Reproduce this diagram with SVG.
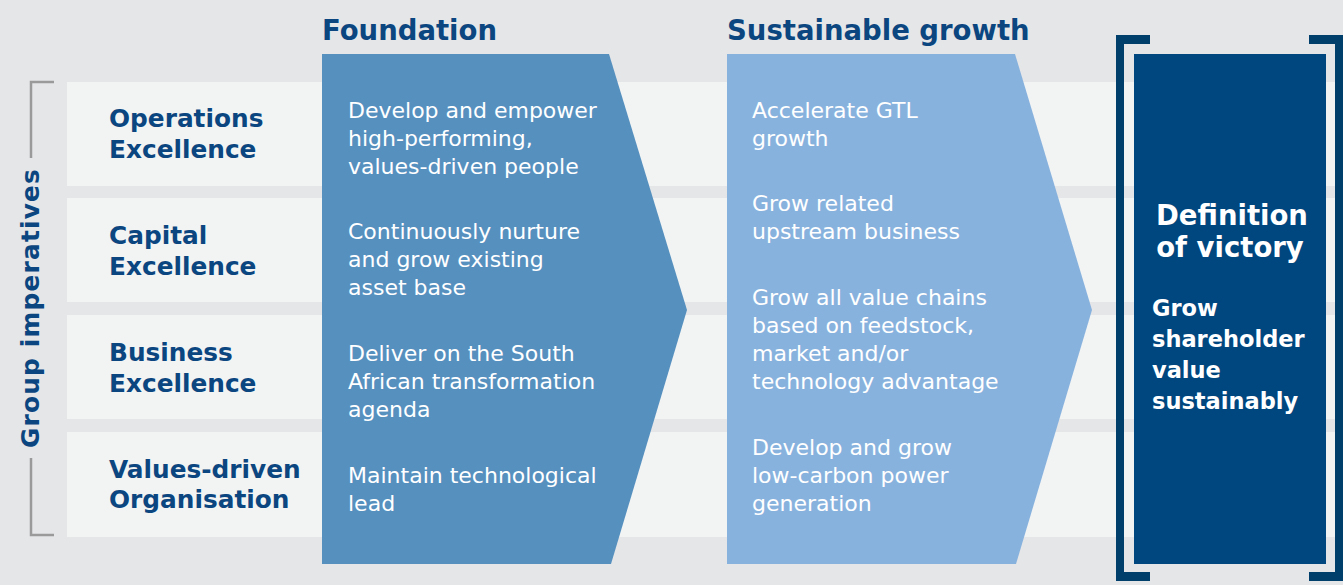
<svg xmlns="http://www.w3.org/2000/svg" width="1343" height="585" viewBox="0 0 1343 585">
<style>
.bg{fill:#e5e6e8}
.row{fill:#f2f4f4}
.lbl{font-family:"DejaVu Sans","Liberation Sans",sans-serif;font-weight:bold;font-size:24.8px;fill:#0b4680}
.hdr{font-family:"DejaVu Sans","Liberation Sans",sans-serif;font-weight:bold;font-size:27.5px;fill:#0b4680}
.wt{font-family:"DejaVu Sans","Liberation Sans",sans-serif;font-size:22px;fill:#ffffff}
.wb{font-family:"DejaVu Sans","Liberation Sans",sans-serif;font-weight:bold;fill:#ffffff}
.gline{stroke:#9a9a9a;stroke-width:2.5;fill:none}
.brk{fill:#003e6b}
</style>
<rect class="bg" x="0" y="0" width="1343" height="585"/>
<g id="rows">
<rect class="row" x="67" y="82" width="1276" height="104"/>
<rect class="row" x="67" y="198" width="1276" height="104"/>
<rect class="row" x="67" y="315" width="1276" height="104"/>
<rect class="row" x="67" y="432" width="1276" height="105"/>
</g>
<g id="group-imperatives">
<path class="gline" d="M54 82 H31 V158"/>
<path class="gline" d="M31 458 V535 H54"/>
<text class="lbl" transform="translate(39,308) rotate(-90)" text-anchor="middle" font-size="28" letter-spacing="1.2">Group imperatives</text>
</g>
<g id="labels">
<text class="lbl" x="109" y="127">Operations</text>
<text class="lbl" x="109" y="158">Excellence</text>
<text class="lbl" x="109" y="244">Capital</text>
<text class="lbl" x="109" y="275">Excellence</text>
<text class="lbl" x="109" y="361">Business</text>
<text class="lbl" x="109" y="392">Excellence</text>
<text class="lbl" x="109" y="478">Values-driven</text>
<text class="lbl" x="109" y="508">Organisation</text>
</g>
<g id="foundation">
<text class="hdr" x="322" y="40">Foundation</text>
<polygon fill="#5690bf" points="322,54 609,54 687,310 611,564 322,564"/>
<text class="wt" x="348" y="118">Develop and empower</text>
<text class="wt" x="348" y="146">high-performing,</text>
<text class="wt" x="348" y="174">values-driven people</text>
<text class="wt" x="348" y="239">Continuously nurture</text>
<text class="wt" x="348" y="267">and grow existing</text>
<text class="wt" x="348" y="295">asset base</text>
<text class="wt" x="348" y="361">Deliver on the South</text>
<text class="wt" x="348" y="389">African transformation</text>
<text class="wt" x="348" y="417">agenda</text>
<text class="wt" x="348" y="483">Maintain technological</text>
<text class="wt" x="348" y="511">lead</text>
</g>
<g id="sustainable-growth">
<text class="hdr" x="727" y="40">Sustainable growth</text>
<polygon fill="#88b2de" points="727,54 1015,54 1092,310 1016,564 727,564"/>
<text class="wt" x="752" y="118">Accelerate GTL</text>
<text class="wt" x="752" y="146">growth</text>
<text class="wt" x="752" y="211">Grow related</text>
<text class="wt" x="752" y="239">upstream business</text>
<text class="wt" x="752" y="305">Grow all value chains</text>
<text class="wt" x="752" y="333">based on feedstock,</text>
<text class="wt" x="752" y="361">market and/or</text>
<text class="wt" x="752" y="389">technology advantage</text>
<text class="wt" x="752" y="455">Develop and grow</text>
<text class="wt" x="752" y="483">low-carbon power</text>
<text class="wt" x="752" y="511">generation</text>
</g>
<g id="definition-of-victory">
<path class="brk" d="M1116 35 H1150 V44 H1124 V572 H1150 V581 H1116 Z"/>
<path class="brk" d="M1343 35 H1309 V44 H1335 V572 H1309 V581 H1343 Z"/>
<rect x="1134" y="54" width="192" height="510" fill="#00467f"/>
<text class="wb" x="1232" y="225" font-size="27.5" text-anchor="middle">Definition</text>
<text class="wb" x="1230" y="257" font-size="27.5" text-anchor="middle">of victory</text>
<text class="wb" x="1152" y="316" font-size="22.5">Grow</text>
<text class="wb" x="1152" y="347" font-size="22.5">shareholder</text>
<text class="wb" x="1152" y="378" font-size="22.5">value</text>
<text class="wb" x="1152" y="409" font-size="22.5">sustainably</text>
</g>
</svg>
